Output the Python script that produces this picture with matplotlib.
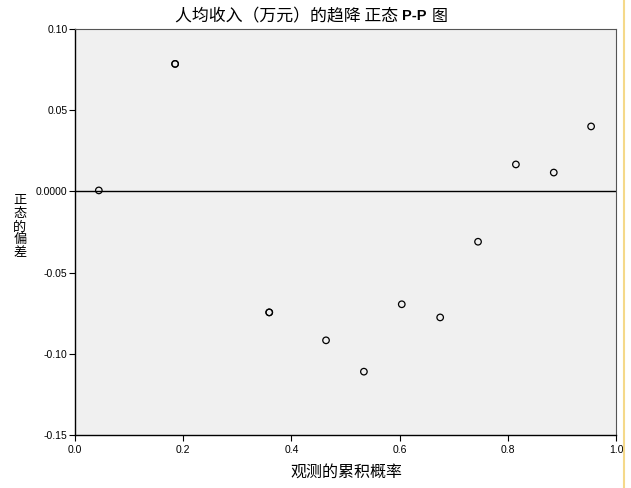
"""正态 P-P 图（去势）"""
import matplotlib
matplotlib.use("Agg")
import matplotlib.pyplot as plt
import numpy as np

plt.rcParams["font.family"] = ["Noto Sans CJK SC", "DejaVu Sans"]

# ── 数据 ──
obs_prob = [0.044, 0.185, 0.185, 0.359, 0.359, 0.464, 0.534, 0.604, 0.675, 0.745, 0.815, 0.885, 0.954]
deviation = [0.0006, 0.0785, 0.0785, -0.0745, -0.0745, -0.0917, -0.1110, -0.0695, -0.0776, -0.0310, 0.0166, 0.0116, 0.0400]
yticks = [0.10, 0.05, 0.0, -0.05, -0.10, -0.15]
ytick_labels = ["0.10", "0.05", "0.0000", "-0.05", "-0.10", "-0.15"]
xticks = [0.0, 0.2, 0.4, 0.6, 0.8, 1.0]
xtick_labels = ["0.0", "0.2", "0.4", "0.6", "0.8", "1.0"]

fig = plt.figure(figsize=(6.31, 4.88), dpi=100)
ax = fig.add_axes([0.1189, 0.1086, 0.8573, 0.832])
ax.set_facecolor("#f0f0f0")

ax.axhline(0, color="black", linewidth=1.0, zorder=1)
ax.scatter(obs_prob, deviation, s=22, facecolors="none", edgecolors="black",
           linewidths=0.9, zorder=3)

ax.set_xlim(0, 1)
ax.set_ylim(-0.15, 0.10)
ax.set_xticks(xticks)
ax.set_xticklabels(xtick_labels, fontsize=7.5, family="Liberation Sans")
ax.set_yticks(yticks)
ax.set_yticklabels(ytick_labels, fontsize=7.5, family="Liberation Sans")
ax.tick_params(direction="out", length=4, width=0.8, pad=1.5)
ax.tick_params(axis="x", pad=3)

for s in ["left", "bottom"]:
    ax.spines[s].set_color("black")
    ax.spines[s].set_linewidth(1.0)
for s in ["top", "right"]:
    ax.spines[s].set_color("#555555")
    ax.spines[s].set_linewidth(0.8)

# 标题
ty = 1 - 16 / 488
fig.text(398 / 631, ty, "人均收入（万元）的趋降 正态", ha="right", va="center", fontsize=12.2)
fig.text(402 / 631, ty, "P-P", ha="left", va="center", fontsize=10.5, fontweight="bold",
         family="Liberation Sans")
fig.text(432 / 631, ty, "图", ha="left", va="center", fontsize=11.5)

# 轴标签
fig.text(346 / 631, 1 - 472 / 488, "观测的累积概率", ha="center", va="center", fontsize=11.5)
fig.text(20 / 631, 1 - 227 / 488, "正\n态\n的\n偏\n差", ha="center", va="center", fontsize=9.5,
         linespacing=1.0)

# 右侧黄色细线
fig.add_artist(plt.Line2D([0.9889, 0.9889], [0, 1], color="#f5d98a", linewidth=1.5,
                          transform=fig.transFigure))

plt.savefig("out.png", dpi=100)
print("OK")
